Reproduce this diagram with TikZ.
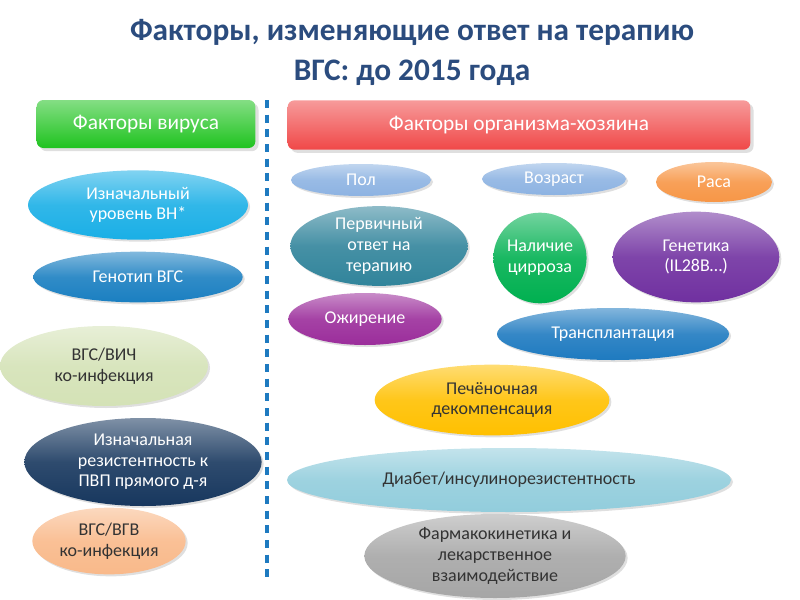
\documentclass[tikz,border=0pt]{standalone}
\usepackage{fontspec}
\setmainfont{Carlito}
\usetikzlibrary{shapes.geometric,shadows}
\definecolor{ttl}{HTML}{2B4C7E}
\definecolor{cA}{HTML}{1AAFE6}
\definecolor{cB}{HTML}{1A7FC1}
\definecolor{cC}{HTML}{D4E2B6}
\definecolor{cD}{HTML}{17375E}
\definecolor{cE}{HTML}{F9B98A}
\definecolor{cP}{HTML}{8DB3E2}
\definecolor{cR}{HTML}{F79646}
\definecolor{cO}{HTML}{31849B}
\definecolor{cN}{HTML}{00B050}
\definecolor{cG}{HTML}{7030A0}
\definecolor{cZ}{HTML}{9B2D9B}
\definecolor{cT}{HTML}{1E7AC0}
\definecolor{cY}{HTML}{FFC000}
\definecolor{cI}{HTML}{92CDDC}
\definecolor{cF}{HTML}{A6A6A6}
\definecolor{cHV}{HTML}{1FC31F}
\definecolor{cHH}{HTML}{F04848}
\tikzset{
 ell/.style={ellipse,draw=none,inner sep=0pt,align=center,font=\fontsize{13.5}{15.5}\selectfont,text=white,
   top color=#1!55!white,bottom color=#1,middle color=#1!90!white,drop shadow={opacity=0.25,shadow xshift=1.5pt,shadow yshift=-1.5pt}},
 hdr/.style={rounded corners=5pt,draw=none,font=\fontsize{16}{19}\selectfont,text=white,
   top color=#1!55!white,bottom color=#1,drop shadow={opacity=0.25}},
}
\begin{document}
\begin{tikzpicture}[x=0.75pt,y=-0.75pt]
\useasboundingbox (0,0) rectangle (800,600);
\node[text=ttl,font=\bfseries\fontsize{23.5}{30}\selectfont,align=center] (t) at (412,52) {Факторы, изменяющие ответ на терапию\\ВГС: до 2015 года};
\node[hdr=cHV,minimum width=164pt,minimum height=36pt] (hv) at (146,124) {Факторы вируса};
\node[hdr=cHH,minimum width=347pt,minimum height=37pt] (hh) at (519,125) {Факторы организма-хозяина};
\coordinate (d1) at (267,100); \coordinate (d2) at (267,580);
\draw[cT,line width=2.5pt,dash pattern=on 6pt off 5pt] (d1) -- (d2);
\node[ell=cA,minimum width=165pt,minimum height=52pt] (a) at (138,205) {Изначальный\\уровень ВН*};
\node[ell=cB,minimum width=157pt,minimum height=38pt] (b) at (138,277) {Генотип ВГС};
\node[ell=cC,text=black!80,minimum width=156pt,minimum height=60pt] (c) at (104,366) {ВГС/ВИЧ\\ко-инфекция};
\node[ell=cD,minimum width=178pt,minimum height=66pt] (d) at (143,462) {Изначальная\\резистентность к\\ПВП прямого д-я};
\node[ell=cE,text=black!80,minimum width=115pt,minimum height=50pt] (e) at (109,541) {ВГС/ВГВ\\ко-инфекция};
\node[ell=cP,minimum width=105pt,minimum height=24pt] (p) at (361,180) {Пол};
\node[ell=cP,minimum width=108pt,minimum height=24pt] (v) at (554,179) {Возраст};
\node[ell=cR,minimum width=87pt,minimum height=30pt] (r) at (714,182) {Раса};
\node[ell=cO,minimum width=133pt,minimum height=57pt] (o) at (379,246) {Первичный\\ответ на\\терапию};
\node[ell=cN,minimum width=69pt,minimum height=68pt] (n) at (540,258) {Наличие\\цирроза};
\node[ell=cG,minimum width=125pt,minimum height=68pt] (g) at (696,257) {Генетика\\(IL28B…)};
\node[ell=cZ,minimum width=115pt,minimum height=39pt] (z) at (365,319) {Ожирение};
\node[ell=cT,minimum width=174pt,minimum height=39pt] (tr) at (613,334) {Трансплантация};
\node[ell=cY,text=black!80,minimum width=176pt,minimum height=53pt] (pd) at (492,400) {Печёночная\\декомпенсация};
\node[ell=cI,text=black!80,minimum width=333pt,minimum height=48pt] (di) at (509,480) {Диабет/инсулинорезистентность};
\node[ell=cF,text=black!80,minimum width=196pt,minimum height=63pt] (f) at (495,556) {Фармакокинетика и\\лекарственное\\взаимодействие};
\end{tikzpicture}
\end{document}
